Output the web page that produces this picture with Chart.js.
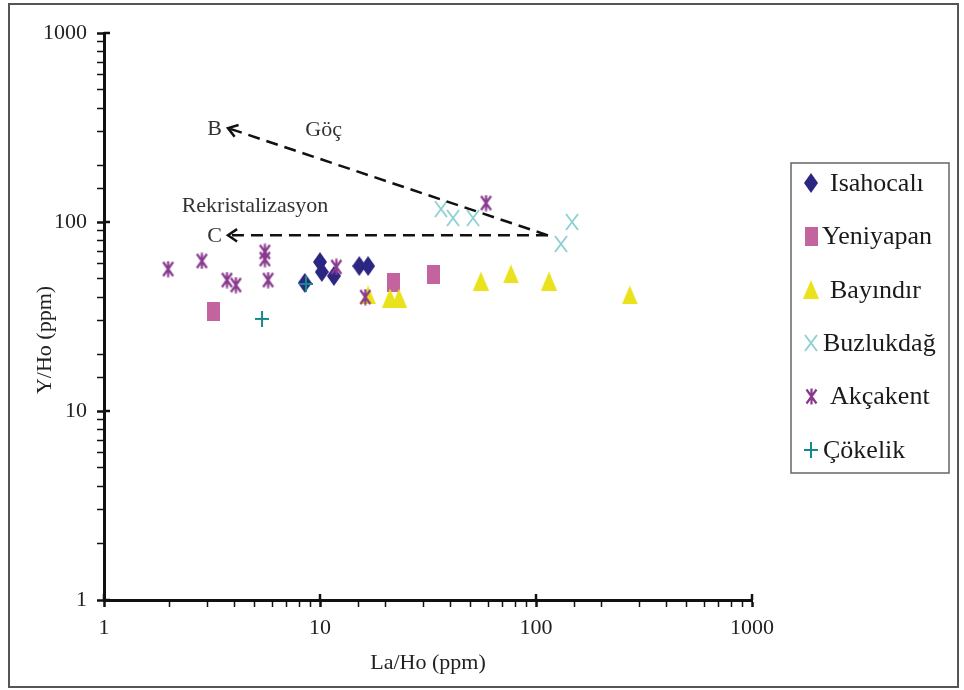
<!DOCTYPE html>
<html>
<head>
<meta charset="utf-8">
<script src="https://cdn.jsdelivr.net/npm/chart.js@4.4.1/dist/chart.umd.min.js"></script>
<style>
	html, body { margin: 0; padding: 0; background: #fff; }
	#wrap { position: relative; width: 964px; height: 690px; }
	#wrap canvas { position: absolute; left: 0; top: 0; }
	#frame { position: absolute; left: 8px; top: 3px; width: 947px; height: 681px; border: 2px solid #555; pointer-events: none; }
</style>
</head>
<body>
<div id="wrap">
	<canvas id="chartjs_scatter" width="964" height="690"></canvas>
	<div id="frame"></div>
</div>
<script>
	"use strict";

	// La/Ho (x) and Y/Ho (y)
	var isahocaliX = [8.5, 10.0, 10.2, 11.6, 15.2, 16.7];
	var isahocaliY = [47.6, 61.4, 54.4, 51.8, 58.5, 58.5];

	var yeniyapanX = [3.23, 22.0, 33.4];
	var yeniyapanY = [33.8, 47.6, 52.5];

	var bayindirX = [16.7, 21.1, 23.2, 55.6, 76.6, 114.8, 272];
	var bayindirY = [41.1, 39.6, 39.6, 48.7, 53.1, 48.7, 41.1];

	var buzlukdagX = [36.3, 41.3, 51.1, 130.5, 146.8];
	var buzlukdagY = [117, 105, 105, 76.5, 100];

	var akcakentX = [1.98, 2.84, 3.71, 4.08, 5.56, 5.56, 5.75, 11.9, 16.2, 58.7];
	var akcakentY = [56.4, 62.2, 49.3, 46.4, 69.4, 63.7, 49.3, 57.8, 40.1, 126];

	var cokelikX = [5.39, 8.61];
	var cokelikY = [30.7, 47];

	var seriesNames = ["Isahocalı", "Yeniyapan", "Bayındır", "Buzlukdağ", "Akçakent", "Çökelik"];
	var axisTicks = [1, 10, 100, 1000];

	// trend arrows (data coordinates)
	var arrowStart = [113.6, 85];
	var arrowB = [3.75, 314];
	var arrowC = [3.75, 85];

	var fontFace = "'Liberation Serif', 'Times New Roman', serif";

	function toPoints(xs, ys) {
		return xs.map(function (x, i) { return { x: x, y: ys[i] }; });
	}

	function marker(w, h, draw) {
		var c = document.createElement('canvas');
		c.width = w; c.height = h;
		draw(c.getContext('2d'), w, h);
		return c;
	}

	var mDiamond = marker(14, 20, function (g, w, h) {
		g.fillStyle = "#2B2682";
		g.beginPath(); g.moveTo(w / 2, 0); g.lineTo(w, h / 2); g.lineTo(w / 2, h); g.lineTo(0, h / 2); g.closePath(); g.fill();
	});
	var mRect = marker(13, 19, function (g, w, h) {
		g.fillStyle = "#C4649F";
		g.fillRect(0, 0, w, h);
	});
	var mTriangle = marker(16, 19, function (g, w, h) {
		g.fillStyle = "#EBE21E";
		g.beginPath(); g.moveTo(w / 2, 0); g.lineTo(w, h); g.lineTo(0, h); g.closePath(); g.fill();
	});
	var mX = marker(14, 18, function (g, w, h) {
		g.strokeStyle = "#8CCFD3"; g.lineWidth = 1.8;
		g.beginPath(); g.moveTo(1, 1); g.lineTo(w - 1, h - 1); g.moveTo(w - 1, 1); g.lineTo(1, h - 1); g.stroke();
	});
	var mStar = marker(13, 17, function (g, w, h) {
		g.strokeStyle = "#8A3A8E"; g.lineWidth = 2.2;
		g.beginPath();
		g.moveTo(1.5, 1.5); g.lineTo(w - 1.5, h - 1.5); g.moveTo(w - 1.5, 1.5); g.lineTo(1.5, h - 1.5);
		g.moveTo(w / 2, 0.5); g.lineTo(w / 2, h - 0.5);
		g.stroke();
	});
	var mCross = marker(14, 16, function (g, w, h) {
		g.strokeStyle = "#168A8A"; g.lineWidth = 2;
		g.beginPath(); g.moveTo(w / 2, 0); g.lineTo(w / 2, h); g.moveTo(0, h / 2); g.lineTo(w, h / 2); g.stroke();
	});

	var markers = [mDiamond, mRect, mTriangle, mX, mStar, mCross];
	var seriesData = [
		toPoints(isahocaliX, isahocaliY),
		toPoints(yeniyapanX, yeniyapanY),
		toPoints(bayindirX, bayindirY),
		toPoints(buzlukdagX, buzlukdagY),
		toPoints(akcakentX, akcakentY),
		toPoints(cokelikX, cokelikY)
	];

	function isPow10(v) {
		var l = Math.log10(v);
		return Math.abs(l - Math.round(l)) < 1e-9;
	}

	var decorPlugin = {
		id: 'decor',
		afterDraw: function (chart) {
			var ctx = chart.ctx;
			var xs = chart.scales.x, ys = chart.scales.y;
			var area = chart.chartArea;

			// major ticks cross the axis line
			ctx.save();
			ctx.strokeStyle = "#111"; ctx.lineWidth = 2.5;
			xs.ticks.forEach(function (t) {
				if (!isPow10(t.value)) return;
				var px = xs.getPixelForValue(t.value);
				ctx.beginPath(); ctx.moveTo(px, area.bottom - 6); ctx.lineTo(px, area.bottom); ctx.stroke();
			});
			ys.ticks.forEach(function (t) {
				if (!isPow10(t.value)) return;
				var py = ys.getPixelForValue(t.value);
				ctx.beginPath(); ctx.moveTo(area.left, py); ctx.lineTo(area.left + 6, py); ctx.stroke();
			});
			ctx.restore();

			// dashed arrows
			function arrow(from, to) {
				var x0 = xs.getPixelForValue(from[0]), y0 = ys.getPixelForValue(from[1]);
				var x1 = xs.getPixelForValue(to[0]), y1 = ys.getPixelForValue(to[1]);
				ctx.save();
				ctx.strokeStyle = "#111"; ctx.lineWidth = 2.5;
				ctx.setLineDash([12, 7]);
				ctx.beginPath(); ctx.moveTo(x0, y0); ctx.lineTo(x1, y1); ctx.stroke();
				ctx.setLineDash([]);
				var a = Math.atan2(y0 - y1, x0 - x1);
				ctx.beginPath();
				ctx.moveTo(x1 + 11 * Math.cos(a - 0.6), y1 + 11 * Math.sin(a - 0.6));
				ctx.lineTo(x1, y1);
				ctx.lineTo(x1 + 11 * Math.cos(a + 0.6), y1 + 11 * Math.sin(a + 0.6));
				ctx.stroke();
				ctx.restore();
			}
			arrow(arrowStart, arrowB);
			arrow(arrowStart, arrowC);

			ctx.save();
			ctx.fillStyle = "#333";
			ctx.font = "22px " + fontFace;
			ctx.textBaseline = "middle";
			ctx.textAlign = "right";
			ctx.fillText("B", xs.getPixelForValue(arrowB[0]) - 6, ys.getPixelForValue(arrowB[1]) + 1);
			ctx.fillText("C", xs.getPixelForValue(arrowC[0]) - 6, ys.getPixelForValue(arrowC[1]) + 1);
			ctx.textAlign = "center";
			ctx.fillText("Göç", xs.getPixelForValue(10.4), ys.getPixelForValue(307));
			ctx.fillText("Rekristalizasyon", xs.getPixelForValue(5.0), ys.getPixelForValue(121.6));

			// y axis title
			ctx.fillStyle = "#222";
			ctx.translate(45, 340);
			ctx.rotate(-Math.PI / 2);
			ctx.fillText("Y/Ho (ppm)", 0, 0);
			ctx.restore();

			// legend box
			ctx.save();
			ctx.strokeStyle = "#666"; ctx.lineWidth = 1.5;
			ctx.strokeRect(791, 163, 158, 310);
			ctx.font = "26px " + fontFace;
			ctx.fillStyle = "#1a1a1a";
			ctx.textBaseline = "middle";
			ctx.textAlign = "left";
			var textX = [830, 822, 830, 823, 830, 823];
			seriesNames.forEach(function (name, i) {
				var cy = 183 + i * 53.4;
				var m = markers[i];
				ctx.drawImage(m, Math.round(811 - m.width / 2), Math.round(cy - m.height / 2));
				ctx.fillText(name, textX[i], cy + 1);
			});
			ctx.restore();
		}
	};

	function tickLabel(value) {
		return axisTicks.indexOf(value) >= 0 ? String(value) : '';
	}

	function gridOpts() {
		return {
			display: true,
			drawOnChartArea: false,
			drawTicks: true,
			tickLength: 7,
			tickColor: "#111",
			tickWidth: function (c) { return c.tick && isPow10(c.tick.value) ? 2.5 : 1.5; }
		};
	}

	var ctx = document.getElementById("chartjs_scatter");
	var myChart = new Chart(ctx, {
		type: 'scatter',
		data: {
			datasets: seriesNames.map(function (name, i) {
				return {
					label: name,
					data: seriesData[i],
					pointStyle: markers[i],
					pointRadius: 6,
					order: 6 - i,
					showLine: false
				};
			})
		},
		options: {
			responsive: false,
			animation: false,
			events: [],
			layout: { padding: { left: 0, top: 33, right: 212, bottom: 0 } },
			plugins: {
				legend: { display: false },
				tooltip: { enabled: false }
			},
			scales: {
				x: {
					type: 'logarithmic',
					min: 1,
					max: 1000,
					grid: gridOpts(),
					border: { display: true, color: "#111", width: 3 },
					ticks: {
						autoSkip: false,
						maxRotation: 0,
						padding: 8,
						color: "#222",
						font: { family: fontFace, size: 22 },
						callback: tickLabel
					},
					title: {
						display: true,
						text: "La/Ho (ppm)",
						color: "#222",
						font: { family: fontFace, size: 22 },
						padding: { top: 0, bottom: 14 }
					},
					afterFit: function (scale) { scale.height = 90; }
				},
				y: {
					type: 'logarithmic',
					min: 1,
					max: 1000,
					grid: gridOpts(),
					border: { display: true, color: "#111", width: 3 },
					ticks: {
						autoSkip: false,
						padding: 10,
						color: "#222",
						font: { family: fontFace, size: 22 },
						callback: tickLabel
					},
					afterFit: function (scale) { scale.width = 104; }
				}
			}
		},
		plugins: [decorPlugin]
	});
</script>
</body>
</html>
